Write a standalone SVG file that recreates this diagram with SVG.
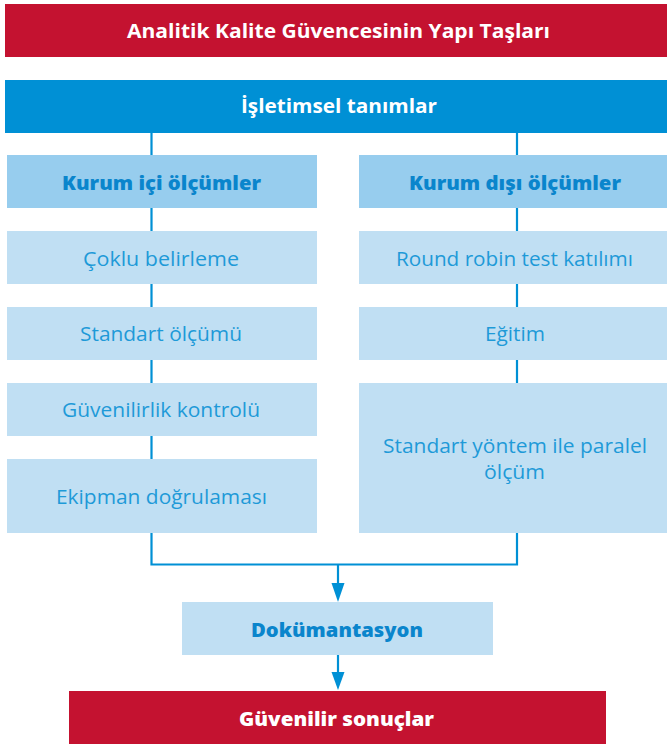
<svg xmlns="http://www.w3.org/2000/svg" width="667" height="747" viewBox="0 0 667 747">
<defs>
<style>
.red{fill:#C41230}
.blue{fill:#0090D5}
.hdr{fill:#97CDEE}
.lt{fill:#C0DFF3}
text{text-anchor:middle}
.tw{font-family:"Open Sans","Noto Sans",sans-serif;font-weight:bold;font-size:20px;fill:#fff}
.th{font-family:"Open Sans","Noto Sans",sans-serif;font-weight:800;font-size:19.5px;fill:#0A85CC}
.tl{font-family:"Open Sans","Noto Sans",sans-serif;font-size:19.5px;fill:#1E9AD8}
.ln{stroke:#0090D5;stroke-width:2.2;fill:none}
.ah{fill:#0090D5}
</style>
</defs>
<rect width="667" height="747" fill="#fff"/>
<g id="connectors">
<path class="ln" d="M151.5,133 V564.5 H517 V133"/>
<path class="ln" d="M338,564.5 V584"/>
<path class="ah" d="M331.5,583 L344.5,583 L338,602 Z"/>
<path class="ln" d="M338,654 V673"/>
<path class="ah" d="M331.5,672 L344.5,672 L338,690 Z"/>
</g>
<g id="title"><rect class="red" x="5" y="4" width="662" height="53"/><text class="tw" x="338.5" y="38.3" textLength="423" lengthAdjust="spacingAndGlyphs">Analitik Kalite Güvencesinin Yapı Taşları</text></g>
<g id="isletimsel"><rect class="blue" x="5" y="80" width="662" height="53"/><text class="tw" x="339" y="113.3" textLength="196" lengthAdjust="spacingAndGlyphs">İşletimsel tanımlar</text></g>
<g id="kurum-ici"><rect class="hdr" x="7" y="155" width="310" height="53"/><text class="th" x="161.5" y="190" textLength="199" lengthAdjust="spacingAndGlyphs">Kurum içi ölçümler</text></g>
<g id="kurum-disi"><rect class="hdr" x="359" y="155" width="308" height="53"/><text class="th" x="515" y="190" textLength="212" lengthAdjust="spacingAndGlyphs">Kurum dışı ölçümler</text></g>
<g id="coklu"><rect class="lt" x="7" y="231" width="310" height="53"/><text class="tl" x="161" y="265.5" textLength="156" lengthAdjust="spacingAndGlyphs">Çoklu belirleme</text></g>
<g id="standart-olcumu"><rect class="lt" x="7" y="307" width="310" height="53"/><text class="tl" x="161" y="341" textLength="162" lengthAdjust="spacingAndGlyphs">Standart ölçümü</text></g>
<g id="guvenilirlik"><rect class="lt" x="7" y="383" width="310" height="53"/><text class="tl" x="161" y="416.5" textLength="198" lengthAdjust="spacingAndGlyphs">Güvenilirlik kontrolü</text></g>
<g id="ekipman"><rect class="lt" x="7" y="459" width="310" height="74"/><text class="tl" x="161.5" y="504" textLength="211" lengthAdjust="spacingAndGlyphs">Ekipman doğrulaması</text></g>
<g id="round-robin"><rect class="lt" x="359" y="231" width="308" height="53"/><text class="tl" x="514.5" y="265.5" textLength="237" lengthAdjust="spacingAndGlyphs">Round robin test katılımı</text></g>
<g id="egitim"><rect class="lt" x="359" y="307" width="308" height="53"/><text class="tl" x="515" y="341" textLength="60" lengthAdjust="spacingAndGlyphs">Eğitim</text></g>
<g id="standart-yontem"><rect class="lt" x="359" y="383" width="308" height="150"/><text class="tl" x="515" y="452.5" textLength="264" lengthAdjust="spacingAndGlyphs">Standart yöntem ile paralel</text><text class="tl" x="514.5" y="479" textLength="61" lengthAdjust="spacingAndGlyphs">ölçüm</text></g>
<g id="dokumantasyon"><rect class="lt" x="182" y="602" width="311" height="53"/><text class="th" x="337" y="637" textLength="172" lengthAdjust="spacingAndGlyphs">Dokümantasyon</text></g>
<g id="guvenilir-sonuclar"><rect class="red" x="69" y="691" width="537" height="53"/><text class="tw" x="336.5" y="725.5" style="font-weight:800;font-size:19.5px" textLength="195" lengthAdjust="spacingAndGlyphs">Güvenilir sonuçlar</text></g>
</svg>
